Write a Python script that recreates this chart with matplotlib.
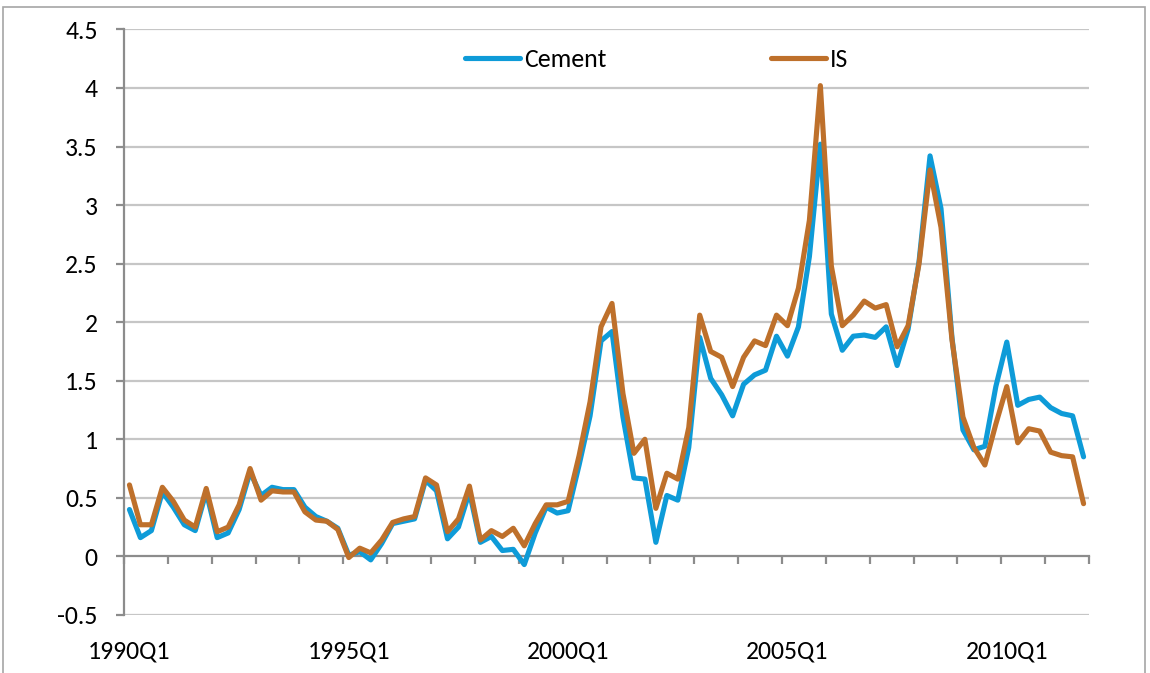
import matplotlib.pyplot as plt
from matplotlib.patches import Rectangle
import numpy as np

plt.rcParams['font.family'] = ['Carlito', 'Lato', 'DejaVu Sans']

# quarterly categories, 1990Q1 .. 2011Q4
quarters = [f"{y}Q{q}" for y in range(1990, 2012) for q in range(1, 5)]
label_every = 20

cement = [0.40, 0.16, 0.22, 0.55, 0.42, 0.27, 0.22, 0.55, 0.16, 0.20,
          0.40, 0.72, 0.52, 0.59, 0.57, 0.57, 0.42, 0.34, 0.30, 0.24,
          0.01, 0.04, -0.03, 0.11, 0.28, 0.30, 0.32, 0.65, 0.56, 0.15,
          0.25, 0.55, 0.12, 0.17, 0.05, 0.06, -0.07, 0.20, 0.42, 0.37,
          0.39, 0.78, 1.20, 1.84, 1.92, 1.19, 0.67, 0.66, 0.12, 0.52,
          0.48, 0.93, 1.87, 1.52, 1.38, 1.20, 1.47, 1.55, 1.59, 1.88,
          1.71, 1.96, 2.56, 3.52, 2.07, 1.76, 1.88, 1.89, 1.87, 1.96,
          1.63, 1.94, 2.52, 3.42, 2.97, 1.87, 1.08, 0.91, 0.94, 1.45,
          1.83, 1.29, 1.34, 1.36, 1.27, 1.22, 1.20, 0.85]

iron_steel = [0.61, 0.27, 0.27, 0.59, 0.47, 0.31, 0.25, 0.58, 0.21, 0.25,
              0.44, 0.75, 0.48, 0.56, 0.55, 0.55, 0.38, 0.31, 0.30, 0.23,
              -0.01, 0.07, 0.03, 0.14, 0.29, 0.32, 0.34, 0.67, 0.61, 0.21,
              0.32, 0.60, 0.14, 0.22, 0.17, 0.24, 0.09, 0.28, 0.44, 0.44,
              0.47, 0.86, 1.32, 1.96, 2.16, 1.39, 0.88, 1.00, 0.41, 0.71,
              0.66, 1.10, 2.06, 1.75, 1.70, 1.45, 1.70, 1.84, 1.80, 2.06,
              1.97, 2.29, 2.87, 4.02, 2.48, 1.97, 2.06, 2.18, 2.12, 2.15,
              1.79, 1.97, 2.50, 3.30, 2.81, 1.85, 1.19, 0.93, 0.78, 1.13,
              1.45, 0.97, 1.09, 1.07, 0.89, 0.86, 0.85, 0.45]

y_ticks = [-0.5, 0, 0.5, 1, 1.5, 2, 2.5, 3, 3.5, 4, 4.5]
y_labels = ['-0.5', '0', '0.5', '1', '1.5', '2', '2.5', '3', '3.5', '4', '4.5']

BLUE = '#0E9BD8'
ORANGE = '#BE702B'
GRID = '#C6C6C6'
AXIS = '#8C8C8C'
FS = 18.5

fig = plt.figure(figsize=(11.5, 6.73), dpi=100)
ax = fig.add_axes([0.1078, 0.0863, 0.947 - 0.1078, 0.9563 - 0.0863])

# chart border
fig.patches.append(Rectangle((3 / 1150, -0.01), 1142 / 1150, 1 - 7 / 673 + 0.01,
                             transform=fig.transFigure, fill=False,
                             edgecolor='#A6A6A6', linewidth=1.2))

n = len(quarters)
x = np.arange(n) + 0.5

ax.plot(x, cement, color=BLUE, lw=3.7, solid_joinstyle='round',
        solid_capstyle='round', label='Cement', zorder=3)
ax.plot(x, iron_steel, color=ORANGE, lw=3.7, solid_joinstyle='round',
        solid_capstyle='round', label='IS', zorder=4)

ax.set_xlim(0, n)
ax.set_ylim(-0.5, 4.5)

# horizontal gridlines
for v in y_ticks:
    if v != 0:
        ax.axhline(v, color=GRID, lw=1.6, zorder=1)

for s in ['top', 'right']:
    ax.spines[s].set_visible(False)
ax.spines['left'].set_color(AXIS)
ax.spines['left'].set_linewidth(1.6)
ax.spines['bottom'].set_position(('data', 0))
ax.spines['bottom'].set_color(AXIS)
ax.spines['bottom'].set_linewidth(1.6)

ax.set_yticks(y_ticks)
ax.set_yticklabels(y_labels)
ax.tick_params(axis='y', length=6, width=1.6, color=AXIS, pad=13,
               labelsize=FS)

# tick marks every four quarters along the zero line
ax.set_xticks(np.arange(0, n + 1, 4))
ax.set_xticklabels([])
ax.tick_params(axis='x', direction='out', length=6, width=1.6, color=AXIS)

# category labels sit below the plot area
sec = ax.secondary_xaxis('bottom')
sec.set_xticks(x[::label_every])
sec.set_xticklabels(quarters[::label_every])
sec.tick_params(length=0, pad=18, labelsize=FS)
sec.spines['bottom'].set_visible(False)

fig.legend(loc='center', bbox_to_anchor=(0.571, 0.912), ncol=2,
           frameon=False, fontsize=FS, handlelength=2.14,
           handletextpad=0.15, columnspacing=6.4)

fig.savefig('out.png', dpi=100)
